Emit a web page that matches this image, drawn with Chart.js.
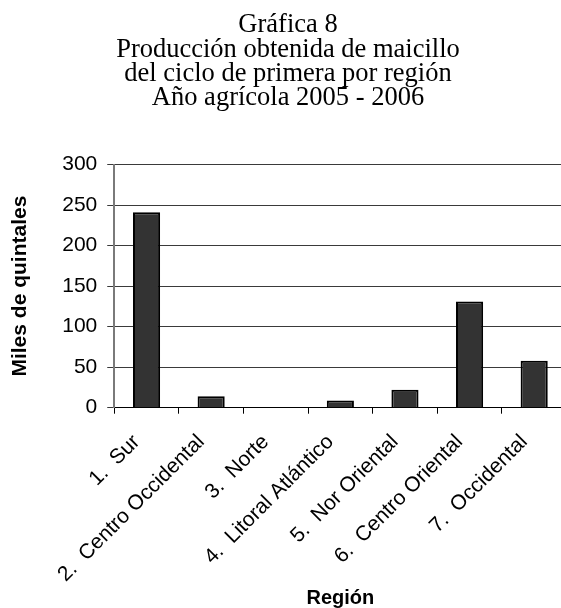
<!DOCTYPE html>
<html>
<head>
<meta charset="utf-8">
<script src="https://cdn.jsdelivr.net/npm/chart.js@4/dist/chart.umd.min.js"></script>
<style>
  html, body { margin: 0; padding: 0; background: #fff; overflow: hidden; }
  #wrap { width: 561px; height: 608px; overflow: hidden; }
</style>
</head>
<body>
<div id="wrap"><canvas id="grafica" width="568" height="608"></canvas></div>
<script>
const regiones = [
  '1.  Sur',
  '2.  Centro Occidental',
  '3.  Norte',
  '4.  Litoral Atlántico',
  '5.  Nor Oriental',
  '6.  Centro Oriental',
  '7.  Occidental'
];
const produccion = [241, 14, 0, 9, 22, 131, 58];
const titulo = [
  'Gráfica 8',
  'Producción obtenida de maicillo',
  'del ciclo de primera por región',
  'Año agrícola 2005 - 2006'
];

const sans = '"Liberation Sans", Arial, sans-serif';

new Chart(document.getElementById('grafica'), {
  type: 'bar',
  data: {
    labels: regiones,
    datasets: [{
      data: produccion,
      backgroundColor: '#333333',
      borderColor: '#000000',
      borderWidth: 2,
      barPercentage: 0.42,
      categoryPercentage: 1
    }]
  },
  options: {
    responsive: false,
    animation: false,
    layout: { padding: { top: 13, left: 8, right: 0, bottom: 0 } },
    plugins: {
      legend: { display: false },
      tooltip: { enabled: false },
      title: {
        display: true,
        text: titulo,
        color: '#000',
        font: { family: '"Liberation Serif", "Times New Roman", serif', size: 26.5, weight: 'normal', lineHeight: 0.92 },
        padding: { top: 0, bottom: 54 }
      }
    },
    scales: {
      x: {
        // rotated labels get more room than they need; trim the axis box
        afterFit: (scale) => { scale.height -= 16; },
        grid: { display: true, drawOnChartArea: false, color: '#000', tickLength: 6, offset: true },
        border: { color: '#000', width: 1 },
        ticks: {
          color: '#000',
          maxRotation: 45,
          minRotation: 45,
          autoSkip: false,
          padding: 16,
          labelOffset: -10,
          font: { family: sans, size: 21 }
        },
        title: {
          display: true,
          text: 'Región',
          color: '#000',
          font: { family: sans, size: 20, weight: 'bold', lineHeight: 1.0 },
          padding: { top: 1, bottom: 0 }
        }
      },
      y: {
        min: 0,
        max: 300,
        ticks: {
          stepSize: 50,
          color: '#000',
          padding: 10,
          font: { family: sans, size: 21 }
        },
        grid: { color: '#3a3a3a', lineWidth: 1, tickLength: 7 },
        border: { color: '#7a7a7a', width: 2 },
        title: {
          display: true,
          text: 'Miles de quintales',
          color: '#000',
          font: { family: sans, size: 21, weight: 'bold' },
          padding: { top: 0, bottom: 19 }
        }
      }
    }
  }
});
</script>
</body>
</html>
